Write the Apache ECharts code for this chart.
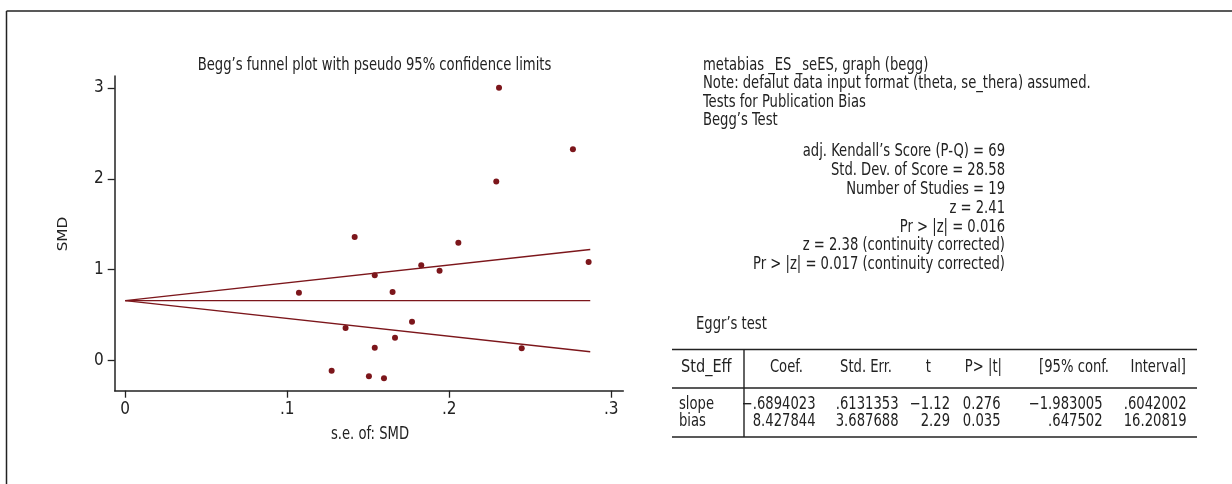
<!DOCTYPE html>
<html>
<head>
<meta charset="utf-8">
<style>
  html, body { margin: 0; padding: 0; background: #fff; }
  #chart { width: 1232px; height: 484px; }
</style>
<script src="https://cdn.jsdelivr.net/npm/echarts@6/dist/echarts.min.js"></script>
</head>
<body>
<div id="chart"></div>
<script>
// Study standard errors and standardized mean differences
const studySe  = [0.2307, 0.2763, 0.2290, 0.1416, 0.2056, 0.2860, 0.1827, 0.1940, 0.1540, 0.1650,
                  0.1072, 0.1770, 0.1360, 0.1665, 0.1540, 0.2447, 0.1274, 0.1504, 0.1597];
const studySmd = [3.000, 2.326, 1.971, 1.359, 1.297, 1.085, 1.048, 0.989, 0.938, 0.755,
                  0.747, 0.429, 0.359, 0.253, 0.143, 0.136, -0.110, -0.171, -0.193];

// Pseudo 95% confidence limits around the pooled estimate
const funnelSe    = [0, 0.287];
const funnelMid   = [0.66, 0.66];
const funnelUpper = [0.66, 1.222];
const funnelLower = [0.66, 0.098];

const xTicks = [0, 0.1, 0.2, 0.3];
const yTicks = [0, 1, 2, 3];

const plotTitle = 'Begg’s funnel plot with pseudo 95% confidence limits';
const xName = 's.e. of: SMD';
const yName = 'SMD';

// Begg's test output
const beggHead = [
  'metabias _ES _seES, graph (begg)',
  'Note: defalut data input format (theta, se_thera) assumed.',
  'Tests for Publication Bias',
  'Begg’s Test'
];
const beggStats = [
  'adj. Kendall’s Score (P-Q) = 69',
  'Std. Dev. of Score = 28.58',
  'Number of Studies = 19',
  'z = 2.41',
  'Pr > |z| = 0.016',
  'z = 2.38 (continuity corrected)',
  'Pr > |z| = 0.017 (continuity corrected)'
];

// Egger's regression table
const eggerTitle = 'Eggr’s test';
const eggerHeader = ['Std_Eff', 'Coef.', 'Std. Err.', 't', 'P> |t|', '[95% conf.', 'Interval]'];
const eggerRows = [
  ['slope', '−.6894023', '.6131353', '−1.12', '0.276', '−1.983005', '.6042002'],
  ['bias',  '8.427844',  '3.687688', '2.29',  '0.035', '.647502',   '16.20819']
];

const FONT = "'Liberation Sans Narrow', 'DejaVu Sans Condensed', 'Roboto', sans-serif";
const RED = '#7c161b';
const INK = '#222';
const SQUEEZE = 0.86;   // horizontal condensing for the narrow typeface

function pairs(xs, ys) { return xs.map((x, i) => [x, ys[i]]); }

const graphic = [];
function txt(x, y, s, align, opts) {
  opts = opts || {};
  const sq = opts.squeeze || SQUEEZE;
  graphic.push({
    type: 'text', silent: true,
    x: x, y: y, rotation: opts.rotation || 0,
    scaleX: opts.rotation ? 1 : sq, scaleY: opts.rotation ? sq : 1,
    style: { x: 0, y: 0, text: s, fill: INK, font: (opts.size || 17) + 'px ' + FONT,
             textAlign: align || 'left', textVerticalAlign: 'middle' }
  });
}
function hline(x1, x2, y, w) {
  graphic.push({ type: 'line', silent: true, shape: { x1: x1, y1: y, x2: x2, y2: y },
                 style: { stroke: INK, lineWidth: w || 1.5 } });
}
function vline(x, y1, y2, w) {
  graphic.push({ type: 'line', silent: true, shape: { x1: x, y1: y1, x2: x, y2: y2 },
                 style: { stroke: INK, lineWidth: w || 1.5 } });
}

// outer frame (top and left edges)
hline(6.5, 1232, 11, 1.5);
vline(6.5, 11, 484, 1.5);

// plot title and axis names
txt(374.5, 66, plotTitle, 'center');
txt(370, 435, xName, 'center');
txt(63, 234, yName, 'center', { rotation: Math.PI / 2 });

// Begg's test block
beggHead.forEach((s, i) => txt(703, 65.5 + i * 18.5, s, 'left'));
beggStats.forEach((s, i) => txt(1005, 152 + i * 18.8, s, 'right'));

// Egger's test table
txt(696, 325, eggerTitle, 'left');
hline(672, 1197, 349.5, 1.6);
hline(672, 1197, 388, 1.4);
hline(672, 1197, 437, 1.4);
vline(744, 349.5, 437, 1.4);

const headX = [681, 803, 892, 931, 1002, 1109, 1186];
const headAlign = ['left', 'right', 'right', 'right', 'right', 'right', 'right'];
eggerHeader.forEach((s, i) => txt(headX[i], 367.5, s, headAlign[i], { squeeze: i === 0 ? 0.95 : SQUEEZE }));
const colX = [679, 815.5, 898.5, 950, 1000.5, 1102.5, 1186.5];
eggerRows.forEach((row, r) => {
  row.forEach((s, i) => txt(colX[i], 405 + r * 17, s, i === 0 ? 'left' : 'right'));
});

const lineStyle = { color: RED, width: 1.4 };
function limitLine(ys) {
  return { type: 'line', data: pairs(funnelSe, ys), symbol: 'none', silent: true,
           lineStyle: lineStyle, z: 2 };
}

const option = {
  animation: false,
  backgroundColor: '#fff',
  textStyle: { fontFamily: FONT },
  grid: { left: 114.7, right: 608.7, top: 76, bottom: 93.3 },
  xAxis: {
    type: 'value', min: -0.0065, max: 0.3074,
    splitLine: { show: false },
    axisLine: { show: true, onZero: false, lineStyle: { color: INK, width: 1.5 } },
    axisTick: { show: true, length: 7, customValues: xTicks, lineStyle: { color: INK, width: 1.3 } },
    axisLabel: { customValues: xTicks, fontFamily: FONT, fontSize: 17, color: INK, margin: 10,
                 formatter: v => v === 0 ? '0' : String(v).replace(/^0/, '') }
  },
  yAxis: {
    type: 'value', min: -0.33, max: 3.13,
    splitLine: { show: false },
    axisLine: { show: true, onZero: false, lineStyle: { color: INK, width: 1.5 } },
    axisTick: { show: true, length: 7, customValues: yTicks, lineStyle: { color: INK, width: 1.3 } },
    axisLabel: { customValues: yTicks, fontFamily: FONT, fontSize: 17, color: INK, margin: 11 }
  },
  series: [
    limitLine(funnelUpper),
    limitLine(funnelMid),
    limitLine(funnelLower),
    {
      type: 'scatter', data: pairs(studySe, studySmd),
      symbol: 'circle', symbolSize: 6,
      itemStyle: { color: RED, opacity: 1 }, z: 3
    }
  ],
  graphic: graphic
};

const chart = echarts.init(document.getElementById('chart'), null, { renderer: 'canvas' });
chart.setOption(option);
</script>
</body>
</html>
